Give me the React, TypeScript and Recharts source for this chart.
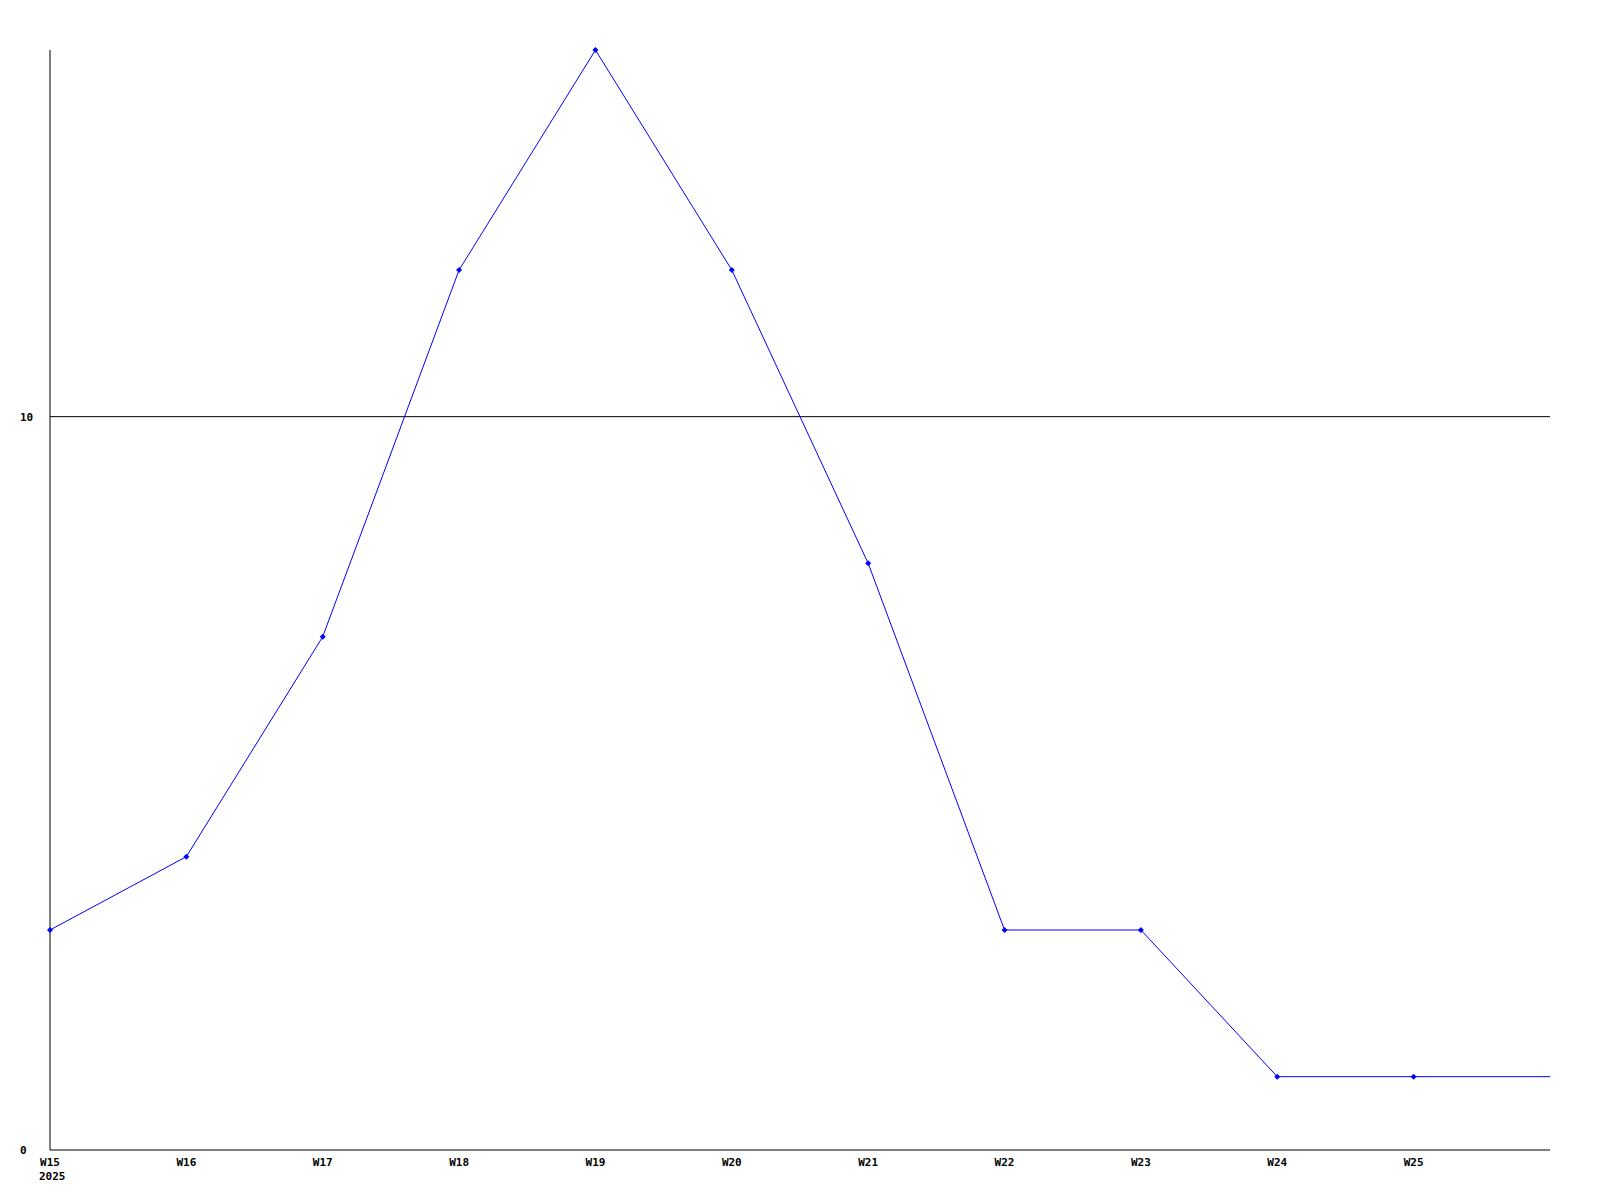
import { LineChart, Line, XAxis, YAxis, ReferenceLine } from 'recharts';

const weeks = ['W15', 'W16', 'W17', 'W18', 'W19', 'W20', 'W21', 'W22', 'W23', 'W24', 'W25', 'W26'];
const counts = [3, 4, 7, 12, 15, 12, 8, 3, 3, 1, 1, 1];
const yearLabel = '2025';
const yTicks = [0, 10];

const data = weeks.map((w, i) => ({ week: w, count: counts[i] }));

const FONT = '"DejaVu Sans Mono", monospace';

function WeekTick(props: any) {
  const { x, y, payload, index } = props;
  // last point runs to the right edge, it has no label
  if (index === weeks.length - 1) return <g />;
  return (
    <g>
      <text x={x} y={y} dy={16} textAnchor="middle" fontFamily={FONT} fontSize={11} fontWeight="bold" fill="#000">
        {payload.value}
      </text>
      {index === 0 && (
        <text x={x} y={y} dy={30} textAnchor="start" dx={-11} fontFamily={FONT} fontSize={11} fontWeight="bold" fill="#000">
          {yearLabel}
        </text>
      )}
    </g>
  );
}

function ValueTick(props: any) {
  const { y, payload } = props;
  return (
    <text x={20} y={y} dy={4} textAnchor="start" fontFamily={FONT} fontSize={11} fontWeight="bold" fill="#000">
      {payload.value}
    </text>
  );
}

function Marker(props: any) {
  const { cx, cy, index } = props;
  if (index === weeks.length - 1 || cx == null) return <g key={index} />;
  return (
    <path
      key={index}
      d={`M${cx - 3},${cy} L${cx},${cy - 3} L${cx + 3},${cy} L${cx},${cy + 3} Z`}
      fill="#0000ff"
      stroke="none"
    />
  );
}

export default function App() {
  return (
    <div style={{ position: 'absolute', left: 0, top: 0, width: 1600, height: 1200, background: '#fff' }}>
      <LineChart width={1600} height={1200} data={data} margin={{ top: 50, right: 50, left: 0, bottom: 0 }}>
        <XAxis
          dataKey="week"
          interval={0}
          height={50}
          tickLine={false}
          tickSize={0}
          tickMargin={0}
          axisLine={{ stroke: '#000', strokeWidth: 1 }}
          tick={<WeekTick />}
        />
        <YAxis
          width={50}
          domain={[0, 15]}
          ticks={yTicks}
          tickLine={false}
          axisLine={{ stroke: '#000', strokeWidth: 1 }}
          tick={<ValueTick />}
        />
        <ReferenceLine y={10} stroke="#000" strokeWidth={1} />
        <Line
          type="linear"
          dataKey="count"
          stroke="#0000ff"
          strokeWidth={1}
          dot={Marker}
          activeDot={false}
          isAnimationActive={false}
        />
      </LineChart>
    </div>
  );
}
